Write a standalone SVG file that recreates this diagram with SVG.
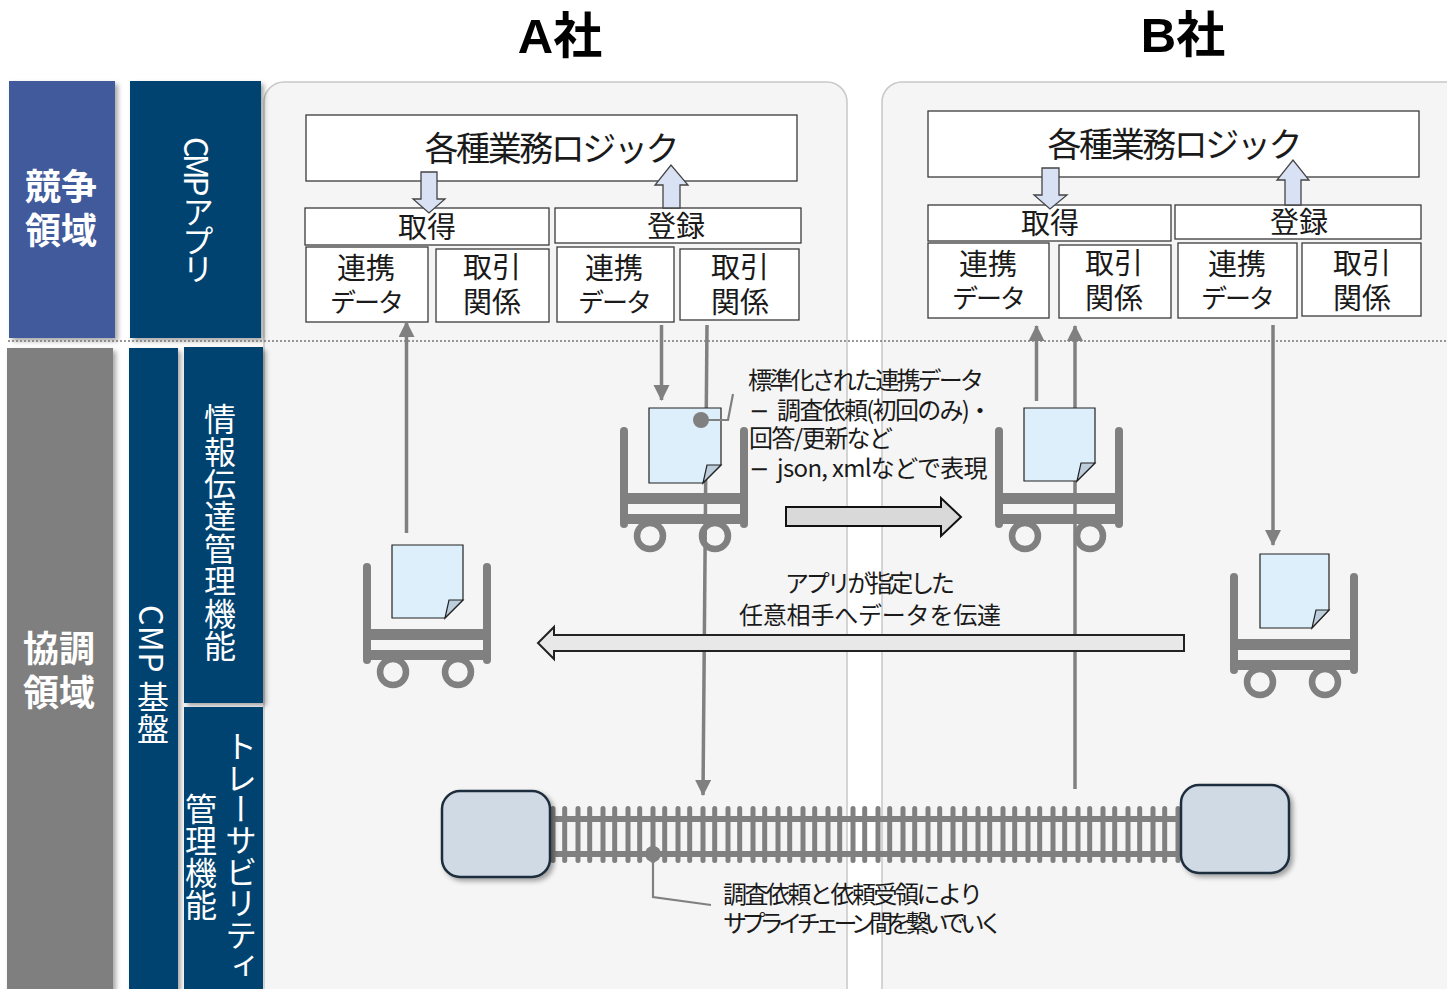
<svg xmlns="http://www.w3.org/2000/svg" width="1447" height="989" viewBox="0 0 1447 989">
<style>
text{font-family:"Noto Sans CJK JP","Noto Sans",sans-serif;fill:#1a1a1a}
.box{fill:#fff;stroke:#3a3a3a;stroke-width:1.3}
.lbl{font-size:29px;text-anchor:middle}
.dt{font-size:26px;letter-spacing:-2px}
.big{font-size:34px;text-anchor:middle}
.note{font-size:24px}
.title{font-family:"Liberation Sans","Noto Sans CJK JP",sans-serif;font-size:49px;font-weight:700;text-anchor:middle;fill:#000}
.side{font-size:36px;font-weight:700;text-anchor:middle;fill:#fff}
.vert{writing-mode:vertical-rl;font-size:32px;fill:#fff}
.panel{fill:#f5f5f5;stroke:#c8c8c8;stroke-width:1.5}
.hollow{fill:#d9e2f5;stroke:#444;stroke-width:1.3}
.conn{fill:none;stroke:#808080;stroke-width:3.5}
.thin{stroke-width:2.2}
.doc{fill:#deeffc;stroke:#222;stroke-width:1.2}
.fold{fill:#bccddb;stroke:#222;stroke-width:1.2}
.station{fill:#d0dae4;stroke:#1f2d3d;stroke-width:2.5}
.cart-post{stroke:#808080;stroke-width:8;stroke-linecap:round;fill:none}
.cart-bar{fill:#808080}
.wheel{fill:none;stroke:#808080;stroke-width:6.5}
.minus{font-family:"DejaVu Sans",sans-serif}
</style>
<defs>
<filter id="sh" x="-20%" y="-20%" width="140%" height="140%"><feDropShadow dx="3" dy="3" stdDeviation="2.5" flood-color="#000" flood-opacity=".35"/></filter>
<marker id="ah" markerUnits="userSpaceOnUse" markerWidth="16" markerHeight="18" refX="15" refY="8" orient="auto"><path d="M0 0L16 8L0 16Z" fill="#808080"/></marker>
<pattern id="ties" patternUnits="userSpaceOnUse" x="550" y="806" width="25" height="57">
<rect x="0.5" y="0" width="5" height="57" rx="2.5" fill="#808080"/><rect x="12.2" y="0" width="5" height="57" rx="2.5" fill="#808080"/>
</pattern>
<g id="cart">
<path class="cart-post" d="M0 0V93M120 0V93"/>
<rect class="cart-bar" x="0" y="62" width="120" height="11"/>
<rect class="cart-bar" x="0" y="83" width="120" height="10"/>
<circle class="wheel" cx="26" cy="105" r="13"/><circle class="wheel" cx="91" cy="105" r="13"/>
</g>
</defs>
<text class="title" x="560" y="53">A社</text>
<text class="title" x="1183" y="52">B社</text>
<g id="panel-a"><rect class="panel" x="264" y="82" width="583" height="930" rx="20"/></g>
<g id="panel-b"><rect class="panel" x="882" y="82" width="600" height="930" rx="20"/></g>
<g id="zone-compete"><rect x="9" y="81" width="106" height="257" fill="#3f5a9c" filter="url(#sh)"/>
<text class="side" x="61" y="200">競争</text><text class="side" x="61" y="244">領域</text></g>
<g id="cmp-app"><rect x="130" y="81" width="131" height="257" fill="#004370" filter="url(#sh)"/>
<text class="vert" x="198" y="137" textLength="148">CMP アプリ</text></g>
<g id="zone-coop"><rect x="7" y="348" width="106" height="660" fill="#7f7f7f" filter="url(#sh)"/>
<text class="side" x="59" y="662">協調</text><text class="side" x="59" y="706">領域</text></g>
<g id="cmp-base"><rect x="129" y="348" width="49" height="660" fill="#004370" filter="url(#sh)"/>
<text class="vert" x="153" y="605" textLength="140">CMP 基盤</text></g>
<g id="info-mgmt"><rect x="184" y="347" width="79" height="356" fill="#004370" filter="url(#sh)"/>
<text class="vert" x="220" y="403" textLength="259">情報伝達管理機能</text></g>
<g id="trace-mgmt"><rect x="184" y="707" width="79" height="300" fill="#004370"/>
<text class="vert" x="241" y="730" textLength="252">トレーサビリティ</text>
<text class="vert" x="201" y="793" textLength="128">管理機能</text></g>
<path d="M8 341H1447" fill="none" stroke="#777" stroke-width="1.5" stroke-dasharray="2 2"/>

<g id="a-logic"><rect class="box" x="306" y="115" width="491" height="66"/><text class="big" x="552" y="161" textLength="255">各種業務ロジック</text></g>
<g id="a-get"><rect class="box" x="305" y="208" width="244" height="37"/><text class="lbl" x="427" y="238">取得</text></g>
<g id="a-reg"><rect class="box" x="555" y="208" width="246" height="35"/><text class="lbl" x="676" y="237">登録</text></g>
<g id="a-data1"><rect class="box" x="306" y="247" width="122" height="75"/><text class="lbl" x="366" y="279">連携</text><text class="lbl dt" x="366" y="312">データ</text></g>
<g id="a-rel1"><rect class="box" x="436" y="249" width="113" height="73"/><text class="lbl" x="492" y="278">取引</text><text class="lbl" x="492" y="313">関係</text></g>
<g id="a-data2"><rect class="box" x="557" y="247" width="117" height="75"/><text class="lbl" x="614" y="279">連携</text><text class="lbl dt" x="614" y="312">データ</text></g>
<g id="a-rel2"><rect class="box" x="680" y="249" width="119" height="71"/><text class="lbl" x="740" y="278">取引</text><text class="lbl" x="740" y="313">関係</text></g>
<path class="hollow" d="M421 172H437V199H445L429 213L413 199H421Z"/>
<path class="hollow" d="M663 208V185H655L671 165L688 185H680V208Z"/>

<g id="b-logic"><rect class="box" x="928" y="111" width="491" height="66"/><text class="big" x="1175" y="157" textLength="255">各種業務ロジック</text></g>
<g id="b-get"><rect class="box" x="928" y="205" width="243" height="36"/><text class="lbl" x="1050" y="234">取得</text></g>
<g id="b-reg"><rect class="box" x="1175" y="205" width="246" height="34"/><text class="lbl" x="1299" y="233">登録</text></g>
<g id="b-data1"><rect class="box" x="928" y="243" width="121" height="75"/><text class="lbl" x="988" y="275">連携</text><text class="lbl dt" x="988" y="308">データ</text></g>
<g id="b-rel1"><rect class="box" x="1059" y="245" width="112" height="73"/><text class="lbl" x="1114" y="274">取引</text><text class="lbl" x="1114" y="309">関係</text></g>
<g id="b-data2"><rect class="box" x="1178" y="243" width="119" height="75"/><text class="lbl" x="1237" y="275">連携</text><text class="lbl dt" x="1237" y="308">データ</text></g>
<g id="b-rel2"><rect class="box" x="1302" y="243" width="119" height="73"/><text class="lbl" x="1362" y="274">取引</text><text class="lbl" x="1362" y="309">関係</text></g>
<path class="hollow" d="M1042 168H1059V195H1067L1050 209L1034 195H1042Z"/>
<path class="hollow" d="M1285 205V180H1277L1293 160L1309 180H1301V205Z"/>

<g id="track">
<rect x="550" y="806" width="631" height="57" fill="url(#ties)"/>
<rect x="550" y="816" width="631" height="6" fill="#808080"/><rect x="550" y="851" width="631" height="6" fill="#808080"/>
</g>
<g id="station-a"><rect class="station" x="442" y="791" width="108" height="86" rx="18" filter="url(#sh)"/></g>
<g id="station-b"><rect class="station" x="1181" y="785" width="108" height="88" rx="18" filter="url(#sh)"/></g>
<g id="cart-a1"><use href="#cart" x="367" y="567"/></g>
<g id="cart-a2"><use href="#cart" x="624" y="431"/></g>
<g id="cart-b1"><use href="#cart" x="999" y="431"/></g>
<g id="cart-b2"><use href="#cart" x="1234" y="577"/></g>

<g id="connectors">
<path class="conn" d="M406.500 533V322" marker-end="url(#ah)"/>
<path class="conn" d="M661.500 325V400" marker-end="url(#ah)"/>
<path class="conn" d="M707 325L703 795" marker-end="url(#ah)"/>
<path class="conn" d="M1036.500 401V326" marker-end="url(#ah)"/>
<path class="conn" d="M1075 789V326" marker-end="url(#ah)"/>
<path class="conn" d="M1273 325V545" marker-end="url(#ah)"/>
</g>

<g id="doc-a1"><path class="doc" d="M392 545H463V600L445 618H392Z"/><path class="fold" d="M445 618L449 600H463Z"/></g>
<g id="doc-a2"><path class="doc" d="M649 408H721V465L703 483H649Z"/><path class="fold" d="M703 483L707 465H721Z"/></g>
<g id="doc-b1"><path class="doc" d="M1024 408H1095V463L1077 481H1024Z"/><path class="fold" d="M1077 481L1081 463H1095Z"/></g>
<g id="doc-b2"><path class="doc" d="M1260 554H1329V610L1312 628H1260Z"/><path class="fold" d="M1312 628L1316 610H1329Z"/></g>

<g id="callout-data"><circle cx="701" cy="420" r="8" fill="#808080"/><path class="conn thin" d="M701 420H728L733 394"/>
<text class="note" x="748" y="389" textLength="236">標準化された連携データ</text>
<text class="note" x="749" y="419"><tspan class="minus">−</tspan><tspan dx="8" textLength="215">調査依頼(初回のみ)・</tspan></text>
<text class="note" x="749" y="447" textLength="144">回答/更新など</text>
<text class="note" x="749" y="477"><tspan class="minus">−</tspan><tspan dx="8" letter-spacing="-0.7">json, xmlなどで表現</tspan></text></g>
<g id="flow-right"><path d="M786 507H941V498L961 517L941 536V526H786Z" fill="#d9d9d9" stroke="#111" stroke-width="2"/></g>
<g id="flow-left"><path d="M1184 635H554V627L538 643L554 659V651H1184Z" fill="#e8e8e8" stroke="#222" stroke-width="2"/>
<text class="note" x="870" y="592" text-anchor="middle" textLength="170">アプリが指定した</text>
<text class="note" x="870" y="624" text-anchor="middle" textLength="262">任意相手へデータを伝達</text></g>
<g id="callout-track"><circle cx="653" cy="854" r="8" fill="#808080"/><path class="conn thin" d="M653 854V897L711 905"/>
<text class="note" x="723" y="903" textLength="260">調査依頼と依頼受領により</text>
<text class="note" x="723" y="932" textLength="280">サプライチェーン間を繋いでいく</text></g>
</svg>
